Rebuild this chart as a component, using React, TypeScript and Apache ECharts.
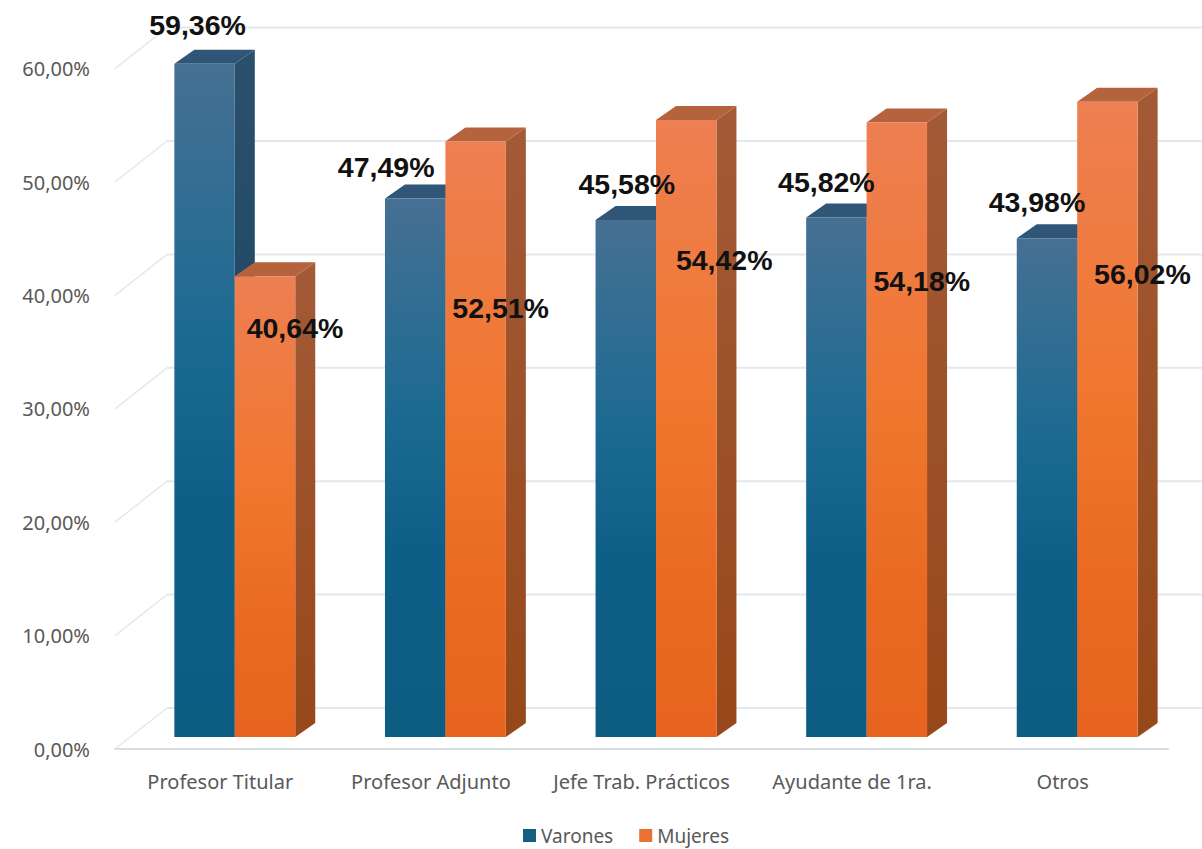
import React, { useEffect, useRef } from "react";
import * as echarts from "echarts";

const categories = ["Profesor Titular", "Profesor Adjunto", "Jefe Trab. Prácticos", "Ayudante de 1ra.", "Otros"];
const varones = [59.36, 47.49, 45.58, 45.82, 43.98];
const mujeres = [40.64, 52.51, 54.42, 54.18, 56.02];
const yTicks = [0, 10, 20, 30, 40, 50, 60];

// label placement relative to the top centre of each bar
const varonesLabelShift = [[-7, -39], [-29, -31], [1, -36], [-10, -35], [-10, -36]];
const mujeresLabelShift = [[30, 52], [25, 166], [38, 140], [25, 158], [35, 172]];

const fmt = (v: number, d = 2) => v.toFixed(d).replace(".", ",") + "%";
const grad = (stops: [number, string][]) =>
  new echarts.graphic.LinearGradient(0, 0, 0, 1, stops.map(([offset, color]) => ({ offset, color })));

const FLOOR_DX = 14.5, FLOOR_DY = -12;
const DEPTH_DX = 20, DEPTH_DY = -14;
const WALL_DX = 52, WALL_DY = -41;
const BAR_FRACTION = 0.287;

const barRender = (side: -1 | 1, front: any, sideFace: any, topFace: string) => (params: any, api: any) => {
  const [cx, y] = api.coord([api.value(0), api.value(1)]);
  const [, y0] = api.coord([api.value(0), 0]);
  const w = api.size([1, 0])[0] * BAR_FRACTION;
  const xMid = cx + FLOOR_DX;
  const x0 = side < 0 ? xMid - w : xMid;
  const x1 = x0 + w;
  const top = y + FLOOR_DY;
  const base = y0 + FLOOR_DY;
  return {
    type: "group",
    children: [
      {
        type: "polygon",
        shape: { points: [[x1, top], [x1 + DEPTH_DX, top + DEPTH_DY], [x1 + DEPTH_DX, base + DEPTH_DY], [x1, base]] },
        style: { fill: sideFace },
      },
      {
        type: "polygon",
        shape: { points: [[x0, top], [x0 + DEPTH_DX, top + DEPTH_DY], [x1 + DEPTH_DX, top + DEPTH_DY], [x1, top]] },
        style: { fill: topFace },
      },
      { type: "rect", shape: { x: x0, y: top, width: w, height: base - top }, style: { fill: front } },
    ],
  };
};

const labelRender = (side: -1 | 1, shifts: number[][]) => (params: any, api: any) => {
  const [cx, y] = api.coord([api.value(0), api.value(1)]);
  const w = api.size([1, 0])[0] * BAR_FRACTION;
  const s = shifts[params.dataIndex];
  return {
    type: "text",
    style: {
      x: cx + FLOOR_DX + (side * w) / 2 + s[0],
      y: y + FLOOR_DY + s[1],
      text: fmt(api.value(1)),
      fill: "#111111",
      font: 'bold 28.5px "Liberation Sans", Arial, sans-serif',
      align: "center",
      verticalAlign: "middle",
    },
  };
};

const wallRender = (params: any, api: any) => {
  const r = params.coordSys;
  const y = api.coord([0, api.value(0)])[1];
  return {
    type: "group",
    children: [
      {
        type: "line",
        shape: { x1: r.x + WALL_DX, y1: y + WALL_DY, x2: 1202, y2: y + WALL_DY },
        style: { stroke: "#e3e8ee", lineWidth: 2 },
      },
      {
        type: "line",
        shape: { x1: r.x, y1: y, x2: r.x + WALL_DX, y2: y + WALL_DY },
        style: { stroke: "#e6e8ea", lineWidth: 1.5 },
      },
    ],
  };
};

export default function App() {
  const ref = useRef<HTMLDivElement>(null);
  useEffect(() => {
    document.body.style.margin = "0";
    const chart = echarts.init(ref.current!, null, { renderer: "svg" });
    const toData = (arr: number[]) => arr.map((v, i) => [i, v]);
    const blueFront = grad([[0, "#467093"], [0.4, "#1c6a92"], [0.65, "#0e5f88"], [1, "#0d5c82"]]);
    const blueSide = grad([[0, "#2b506c"], [1, "#123f5c"]]);
    const orangeFront = grad([[0, "#ee7f52"], [0.45, "#f0772f"], [0.75, "#ea6a22"], [1, "#e6641f"]]);
    const orangeSide = grad([[0, "#a35a36"], [1, "#97481a"]]);
    const base = { type: "custom", coordinateSystem: "cartesian2d", encode: { x: 0, y: 1 }, silent: true };
    chart.setOption({
      animation: false,
      backgroundColor: "#ffffff",
      grid: { left: 115, right: 34, top: 68.6, bottom: 100, containLabel: false },
      legend: {
        data: ["Varones", "Mujeres"],
        left: 518,
        top: 821,
        icon: "rect",
        itemWidth: 13,
        itemHeight: 13,
        itemGap: 26,
        selectedMode: false,
        textStyle: { color: "#595959", fontSize: 19, fontFamily: '"Noto Sans", sans-serif' },
      },
      xAxis: {
        type: "category",
        data: categories,
        axisTick: { show: false },
        axisLine: { lineStyle: { color: "#d6dde4", width: 2 } },
        axisLabel: { color: "#595959", fontSize: 20, margin: 22, fontFamily: '"Noto Sans", sans-serif', interval: 0 },
      },
      yAxis: {
        type: "value",
        min: 0,
        max: 60,
        interval: 10,
        splitLine: { show: false },
        axisLine: { show: false },
        axisTick: { show: false },
        axisLabel: { color: "#595959", fontSize: 20, margin: 25, fontFamily: '"Noto Sans", sans-serif', formatter: (v: number) => fmt(v) },
      },
      series: [
        { ...base, name: "wall", z: 1, encode: { y: 0 }, data: yTicks.map((v) => [v]), renderItem: wallRender },
        { ...base, name: "Varones", z: 2, itemStyle: { color: "#156082" }, data: toData(varones), renderItem: barRender(-1, blueFront, blueSide, "#2f5676") },
        { ...base, name: "Mujeres", z: 3, itemStyle: { color: "#e97132" }, data: toData(mujeres), renderItem: barRender(1, orangeFront, orangeSide, "#b5633c") },
        { ...base, name: "Varones etiquetas", z: 5, data: toData(varones), renderItem: labelRender(-1, varonesLabelShift) },
        { ...base, name: "Mujeres etiquetas", z: 5, data: toData(mujeres), renderItem: labelRender(1, mujeresLabelShift) },
      ],
    });
    return () => chart.dispose();
  }, []);
  return <div ref={ref} style={{ position: "absolute", left: 0, top: 0, width: 1202, height: 849 }} />;
}
